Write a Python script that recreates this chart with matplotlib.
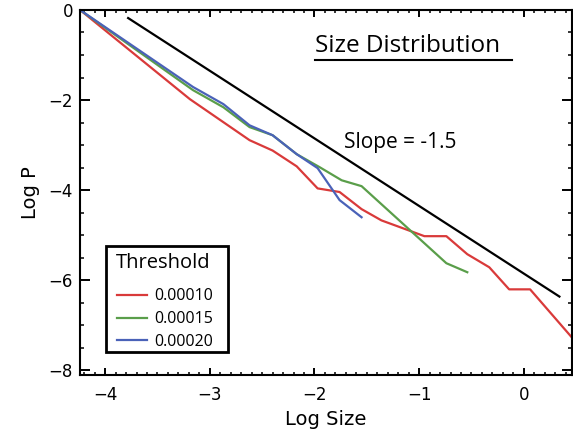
import numpy as np
import matplotlib
matplotlib.use("Agg")
import matplotlib.pyplot as plt
from matplotlib.ticker import MultipleLocator
from matplotlib.patches import Rectangle

# dados (log10 do tamanho, log10 da probabilidade)
red_x = [-4.24, -3.19, -2.62, -2.40, -2.17, -1.97, -1.76, -1.55, -1.36, -1.16,
         -0.95, -0.74, -0.54, -0.33, -0.14, 0.06, 0.46]
red_y = [0.0, -1.98, -2.89, -3.12, -3.47, -3.96, -4.04, -4.42, -4.67, -4.84,
         -5.02, -5.02, -5.42, -5.71, -6.20, -6.20, -7.27]

green_x = [-4.24, -3.16, -2.87, -2.62, -2.40, -2.17, -1.95, -1.74, -1.55, -0.74, -0.54]
green_y = [0.0, -1.78, -2.16, -2.60, -2.78, -3.20, -3.49, -3.78, -3.91, -5.62, -5.82]

blue_x = [-4.24, -3.16, -2.87, -2.62, -2.40, -2.17, -1.97, -1.76, -1.55]
blue_y = [0.0, -1.71, -2.09, -2.56, -2.78, -3.20, -3.51, -4.22, -4.60]

slope_x = [-3.78, 0.34]
slope_y = [-0.18, -6.36]

thresholds = ["0.00010", "0.00015", "0.00020"]
colors = ["#d93a3a", "#5a9e4a", "#4a62b8"]

txt_font = "Open Sans"

fig = plt.figure(figsize=(5.73, 4.32), dpi=100)
ax = fig.add_axes([0.1396, 0.132, 0.8586, 0.845])

ax.plot(red_x, red_y, color=colors[0], lw=1.6, label=thresholds[0])
ax.plot(green_x, green_y, color=colors[1], lw=1.6, label=thresholds[1])
ax.plot(blue_x, blue_y, color=colors[2], lw=1.6, label=thresholds[2])
ax.plot(slope_x, slope_y, color="black", lw=1.6)

ax.set_xlim(-4.24, 0.46)
ax.set_ylim(-8.1, 0)

ax.xaxis.set_major_locator(MultipleLocator(1))
ax.xaxis.set_minor_locator(MultipleLocator(0.1))
ax.yaxis.set_major_locator(MultipleLocator(2))
ax.yaxis.set_minor_locator(MultipleLocator(0.5))

ax.tick_params(which="both", direction="in", top=True, right=True, labelsize=12)
ax.tick_params(axis="x", which="major", length=5, width=1.4, pad=8)
ax.tick_params(axis="x", which="minor", length=2.5, width=1.1)
ax.tick_params(axis="y", which="major", length=7.2, width=1.4, pad=5)
ax.tick_params(axis="y", which="minor", length=3.2, width=1.1)
for s in ax.spines.values():
    s.set_linewidth(1.5)

ax.set_xlabel("Log Size", fontsize=14, labelpad=4)
ax.set_ylabel("Log P", fontsize=14, labelpad=6)

# titulo sublinhado e texto da inclinacao
ax.text(0.478, 0.90, "Size Distribution", transform=ax.transAxes,
        fontsize=17.5, family=txt_font, va="center", ha="left")
ax.plot([0.478, 0.878], [0.863, 0.863], transform=ax.transAxes, color="black", lw=1.5)
ax.text(0.537, 0.636, "Slope = -1.5", transform=ax.transAxes,
        fontsize=15, family=txt_font, va="center", ha="left")

# legenda: moldura, titulo e entradas separados
ax.add_patch(Rectangle((0.053, 0.063), 0.248, 0.290, transform=ax.transAxes,
                       fill=True, facecolor="white", edgecolor="black", lw=2, zorder=5))
ax.text(0.0735, 0.307, "Threshold", transform=ax.transAxes, fontsize=14.5,
        family=txt_font, va="center", ha="left", zorder=6)
leg = ax.legend(loc="upper left", bbox_to_anchor=(0.0752, 0.237), borderaxespad=0,
                frameon=False, prop={"family": txt_font, "size": 11.5},
                handlelength=1.9, handletextpad=0.45, labelspacing=0.42, borderpad=0)
leg.set_zorder(7)

fig.savefig("out.png", dpi=100)
